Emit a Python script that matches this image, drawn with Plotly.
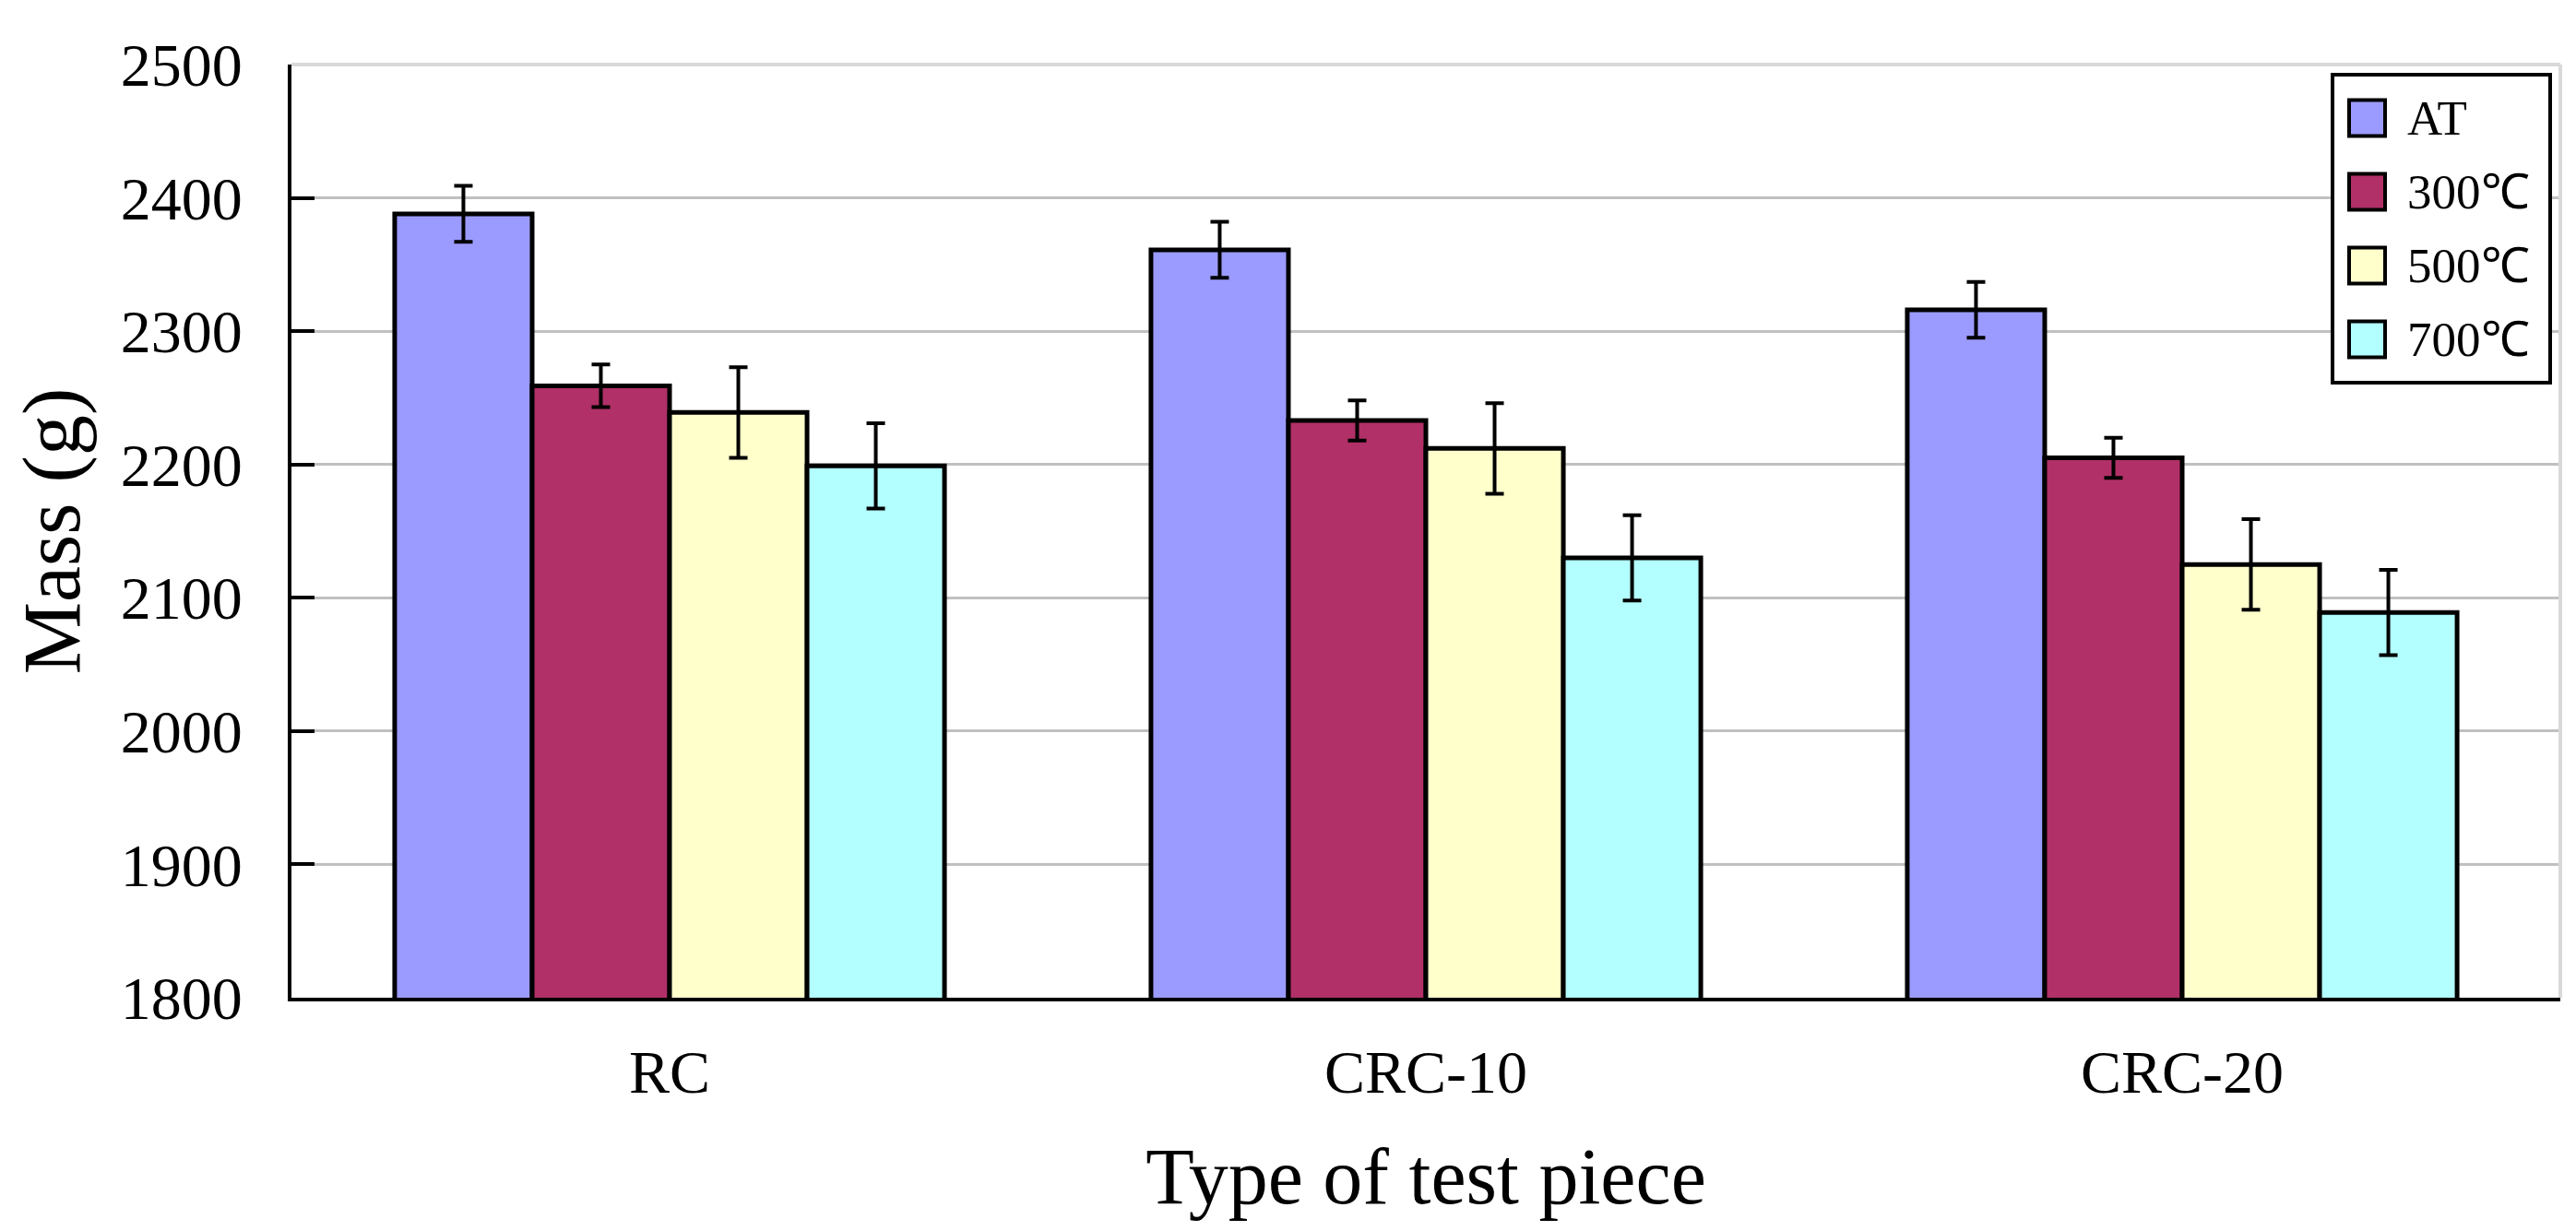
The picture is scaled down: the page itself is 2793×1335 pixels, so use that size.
import plotly.graph_objects as go

categories = ["RC", "CRC-10", "CRC-20"]
series_names = ["AT", "300℃", "500℃", "700℃"]
mass_AT = [2388, 2361, 2316]
mass_300 = [2259, 2233, 2205]
mass_500 = [2239, 2212, 2125]
mass_700 = [2199, 2130, 2089]
err_AT = [21, 21, 21]
err_300 = [16, 15, 15]
err_500 = [34, 34, 34]
err_700 = [32, 32, 32]
y_ticks = [1800, 1900, 2000, 2100, 2200, 2300, 2400, 2500]

colors = ["#9B9BFF", "#B03067", "#FFFFCC", "#B3FFFF"]
values = [mass_AT, mass_300, mass_500, mass_700]
errors = [err_AT, err_300, err_500, err_700]

FONT = "Liberation Serif, Times New Roman, serif"
W, H = 2793, 1335
L, R, T, B = 308, 2768, 62, 1074

fig = go.Figure()
for name, vals, errs, col in zip(series_names, values, errors, colors):
    fig.add_trace(go.Bar(
        x=categories, y=vals, name=name,
        marker=dict(color=col, line=dict(color="black", width=5)),
        error_y=dict(type="data", array=errs, visible=True,
                     color="black", thickness=4, width=10),
        showlegend=False,
    ))

def px_x(px):
    return (px - L) / (R - L)

def px_y(py):
    return (B - py) / (B - T)

shapes = []
annotations = []
# plot area top/right light border
shapes.append(dict(type="line", xref="paper", yref="paper", x0=0, x1=1, y0=1, y1=1,
                   line=dict(color="#D9D9D9", width=4), layer="above"))
shapes.append(dict(type="line", xref="paper", yref="paper", x0=1, x1=1, y0=0, y1=1,
                   line=dict(color="#D9D9D9", width=4), layer="above"))
# legend box
shapes.append(dict(type="rect", xref="paper", yref="paper",
                   x0=px_x(2521), x1=px_x(2757), y0=px_y(407), y1=px_y(73),
                   line=dict(color="black", width=4), fillcolor="white", layer="above"))
centers = [120, 200, 280, 360]
for name, col, cy in zip(series_names, colors, centers):
    shapes.append(dict(type="rect", xref="paper", yref="paper",
                       x0=px_x(2539), x1=px_x(2578), y0=px_y(cy + 19.5), y1=px_y(cy - 19.5),
                       line=dict(color="black", width=4), fillcolor=col, layer="above"))
    annotations.append(dict(xref="paper", yref="paper", x=px_x(2600), y=px_y(cy),
                            text=name, showarrow=False, xanchor="left", yanchor="middle",
                            font=dict(family=FONT, size=53, color="black")))

fig.update_layout(
    width=W, height=H,
    margin=dict(l=L, r=W - R, t=T, b=H - B, pad=0),
    paper_bgcolor="white", plot_bgcolor="white",
    barmode="group", bargap=0.273, bargroupgap=0,
    font=dict(family=FONT, color="black"),
    shapes=shapes, annotations=annotations,
    xaxis=dict(
        showline=True, linecolor="black", linewidth=4, ticks="",
        tickfont=dict(family=FONT, size=66, color="black"),
        ticklabelstandoff=20,
        title=dict(text="Type of test piece", font=dict(family=FONT, size=86, color="black"),
                   standoff=48),
        showgrid=False,
    ),
    yaxis=dict(
        range=[1800, 2500], tickvals=y_ticks, ticktext=[str(v) for v in y_ticks],
        showline=True, linecolor="black", linewidth=4,
        ticks="inside", ticklen=25, tickwidth=4, tickcolor="black",
        tickfont=dict(family=FONT, size=66, color="black"),
        ticklabelstandoff=36,
        showgrid=True, gridcolor="#C0C0C0", gridwidth=3,
        zeroline=False,
        title=dict(text="Mass (g)", font=dict(family=FONT, size=88, color="black"),
                   standoff=22),
    ),
)

fig.write_html("out.html")
